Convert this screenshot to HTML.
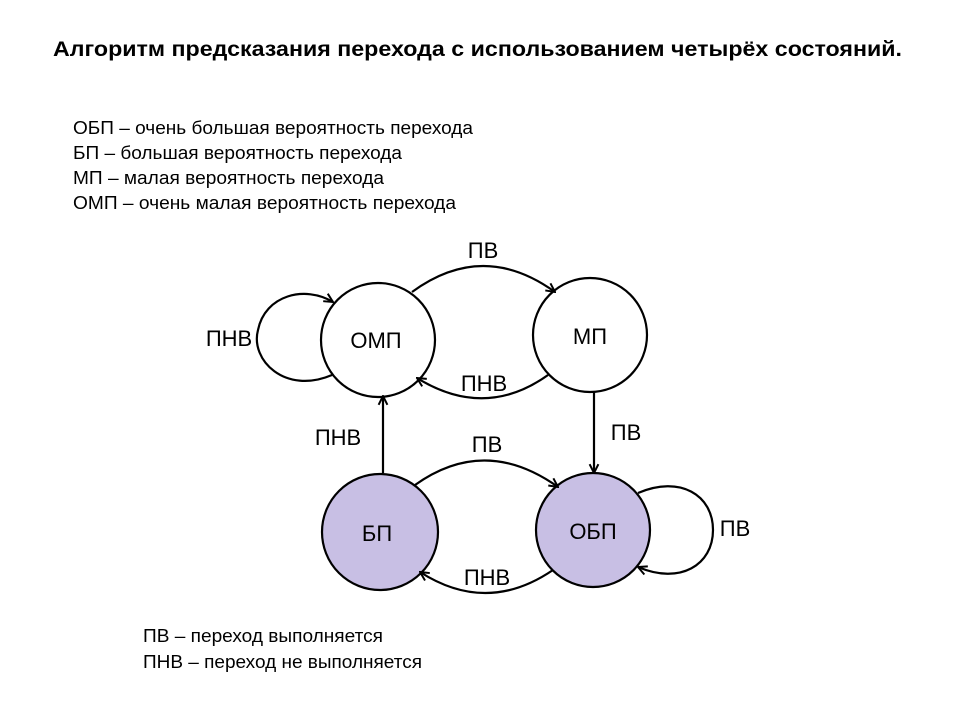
<!DOCTYPE html>
<html><head><meta charset="utf-8"><style>
html,body{margin:0;padding:0;background:#fff;}
svg{display:block;}
text{font-family:"Liberation Sans",sans-serif;fill:#000;}
</style></head><body>
<svg width="960" height="720" viewBox="0 0 960 720" xmlns="http://www.w3.org/2000/svg">
<defs>
<marker id="a" viewBox="0 0 10 10" refX="9" refY="5" markerWidth="11" markerHeight="11" markerUnits="userSpaceOnUse" orient="auto">
<path d="M1,1 L9,5 L1,9" fill="none" stroke="#000" stroke-width="1.8"/>
</marker>
</defs>
<text x="53" y="56" font-size="21" font-weight="bold" textLength="849" lengthAdjust="spacingAndGlyphs">Алгоритм предсказания перехода с использованием четырёх состояний.</text>
<g font-size="18">
<text x="73" y="134" textLength="400" lengthAdjust="spacingAndGlyphs">ОБП – очень большая вероятность перехода</text>
<text x="73" y="159" textLength="329" lengthAdjust="spacingAndGlyphs">БП – большая вероятность перехода</text>
<text x="73" y="184" textLength="311" lengthAdjust="spacingAndGlyphs">МП – малая вероятность перехода</text>
<text x="73" y="209" textLength="383" lengthAdjust="spacingAndGlyphs">ОМП – очень малая вероятность перехода</text>
<text x="143" y="642" textLength="240" lengthAdjust="spacingAndGlyphs">ПВ – переход выполняется</text>
<text x="143" y="668" textLength="279" lengthAdjust="spacingAndGlyphs">ПНВ – переход не выполняется</text>
</g>
<g fill="none" stroke="#000" stroke-width="2.2">
<circle cx="378" cy="340" r="57" fill="#fff"/>
<circle cx="590" cy="335" r="57" fill="#fff"/>
<circle cx="380" cy="532" r="58" fill="#c8bfe4"/>
<circle cx="593" cy="530" r="57" fill="#c8bfe4"/>
<path d="M412,292 Q483,240 555,292" marker-end="url(#a)"/>
<path d="M548,375 Q485,420 417,378" marker-end="url(#a)"/>
<path d="M332,375 C285,395 250,360 258,330 C265,295 305,285 333,302" marker-end="url(#a)"/>
<path d="M383,473 L383,396" marker-end="url(#a)"/>
<path d="M594,392 L594,473" marker-end="url(#a)"/>
<path d="M415,485 Q485,435 558,487" marker-end="url(#a)"/>
<path d="M553,570 Q487,615 420,572" marker-end="url(#a)"/>
<path d="M638,493 C680,475 713,495 713,530 C713,565 680,585 638,567" marker-end="url(#a)"/>
</g>
<g font-size="22" text-anchor="middle">
<text x="376" y="348">ОМП</text>
<text x="590" y="344">МП</text>
<text x="377" y="541">БП</text>
<text x="593" y="539">ОБП</text>
<text x="483" y="258">ПВ</text>
<text x="484" y="391">ПНВ</text>
<text x="229" y="346">ПНВ</text>
<text x="338" y="445">ПНВ</text>
<text x="626" y="440">ПВ</text>
<text x="487" y="452">ПВ</text>
<text x="487" y="585">ПНВ</text>
<text x="735" y="536">ПВ</text>
</g>
</svg>
</body></html>
